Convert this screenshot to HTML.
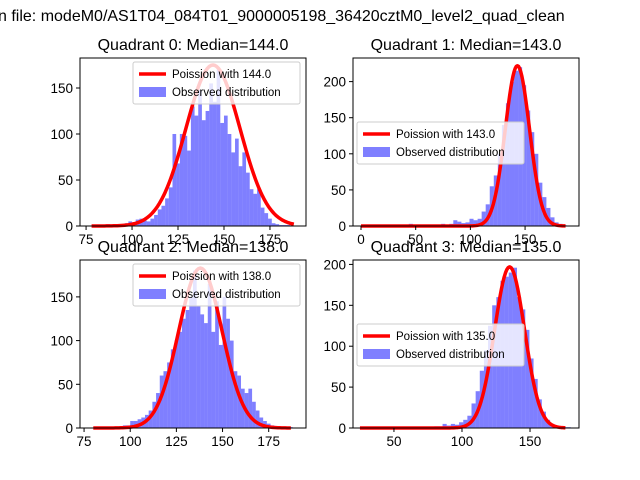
<!DOCTYPE html>
<html><head><meta charset="utf-8">
<style>
html,body{margin:0;padding:0;background:#fff;}
svg{display:block;font-family:"Liberation Sans","DejaVu Sans",sans-serif;}
</style></head>
<body>
<svg id="fig" width="640" height="480" viewBox="0 0 640 480">
<rect width="640" height="480" fill="#fff"/>
<text x="-2" y="21" font-size="16" fill="#000">n file: modeM0/AS1T04_084T01_9000005198_36420cztM0_level2_quad_clean</text>
</svg>
<script>
// ---- data ----
const medians = [144, 143, 138, 135];
const curvePeaks = [175, 222, 183, 197];
const curveVariances = [216, 122, 138, 122];
const binStarts = [78, 3, 80, 31];
const binWidths = [2, 3.7, 2, 3.04];
const curveRanges = [[78, 188], [0, 187], [80, 187], [25, 176]];
const q0Counts = [1,1,1,1,2,1,2,2,1,3,5,4,7,8,6,5,8,12,18,22,30,42,100,68,100,98,82,130,120,148,115,125,155,135,170,112,120,100,80,95,65,80,58,40,35,40,20,14,8,3,2,1,1,1,0];
const q1Counts = [1,1,1,1,1,1,1,1,1,1,1,3,2,2,2,2,1,1,2,3,2,3,8,6,4,5,10,8,10,20,30,55,70,100,140,170,200,215,220,195,160,130,100,60,40,25,12,5,3,1];
const q2Counts = [1,1,1,1,1,1,1,2,3,3,8,8,10,12,15,20,30,40,60,65,75,90,100,110,125,135,150,180,140,130,120,165,110,145,95,150,125,100,65,60,45,40,45,30,20,12,8,5,3,1,1,1,1,1];
const q3Counts = [1,0,0,1,0,1,0,1,1,1,1,1,1,1,1,1,2,2,5,3,5,4,7,10,15,30,45,70,95,125,150,160,180,185,190,196,160,145,120,85,60,35,20,10,5,3,2,1,1,0];
const allCounts = [q0Counts, q1Counts, q2Counts, q3Counts];
const xTickVals = [[75,100,125,150,175],[0,50,100,150],[75,100,125,150,175],[50,100,150]];
const yTickVals = [[0,50,100,150],[0,50,100,150,200],[0,50,100,150],[0,50,100,150,200]];
const xDomains = [[71.7,194.6],[-7.3,199.3],[72.8,195.2],[19.9,186]];
const yDomains = [[0,182.6],[0,232.7],[0,192.2],[0,205.4]];
const legendPos = ['ur','cl','ur','cl'];

const NS = 'http://www.w3.org/2000/svg';
const svg = document.getElementById('fig');
function mk(tag, attrs, parent){
  const e = document.createElementNS(NS, tag);
  for (const k in attrs) e.setAttribute(k, attrs[k]);
  (parent||svg).appendChild(e);
  return e;
}
const boxes = [[80,58,226,168],[353,58,226,168],[80,260,226,168],[353,260,226,168]];

for (let q=0;q<4;q++){
  const [bx,by,bw,bh] = boxes[q];
  const [x0,x1] = xDomains[q], [y0,y1] = yDomains[q];
  const X = v => bx + (v-x0)/(x1-x0)*bw;
  const Y = v => by + bh - (v-y0)/(y1-y0)*bh;
  const g = mk('g', {});
  
  
  const t = mk('text', {x: bx+bw/2, y: by-8, 'font-size': 16, 'text-anchor':'middle'}, g);
  
  
  t.textContent = 'Quadrant ' + q + ': Median=' + medians[q].toFixed(1);
  const counts = allCounts[q];
  for (let i=0;i<counts.length;i++){
    if (counts[i] <= 0) continue;
    const a = binStarts[q] + i*binWidths[q];
    const r = mk('rect', {x: X(a), y: Y(counts[i]), width: X(a+binWidths[q])-X(a), height: Y(0)-Y(counts[i]), fill:'#0000ff', 'fill-opacity':0.5}, g);
    
    
  }
  const lam = medians[q], vr = curveVariances[q];
  let d = '';
  for (let x=curveRanges[q][0]; x<=curveRanges[q][1]; x+=1){
    const yv = curvePeaks[q]*Math.exp(-(x-lam)*(x-lam)/(2*vr));
    d += (d?'L':'M') + X(x).toFixed(2) + ',' + Y(yv).toFixed(2);
  }
  const p = mk('path', {d, fill:'none', stroke:'#ff0000', 'stroke-width':3.5, 'stroke-linejoin':'round'}, g);
  
  
  const fr = mk('rect', {x:bx, y:by, width:bw, height:bh, fill:'none', stroke:'#000', 'stroke-width':1}, g);
  
  
  xTickVals[q].forEach(v=>{
    const x = X(v);
    const l = mk('line', {x1:x, x2:x, y1:by+bh, y2:by+bh+4, stroke:'#000'}, g);
    
    
    const tx = mk('text', {x, y: by+bh+18, 'font-size':13.5, 'text-anchor':'middle'}, g);
    
    
    tx.textContent = v;
  });
  yTickVals[q].forEach(v=>{
    const y = Y(v);
    const l = mk('line', {x1:bx-4, x2:bx, y1:y, y2:y, stroke:'#000'}, g);
    
    
    const tx = mk('text', {x: bx-7, y: y+5, 'font-size':13.5, 'text-anchor':'end'}, g);
    
    
    tx.textContent = v;
  });
  const lw = 167, lh = 42;
  const lx = legendPos[q]==='ur' ? bx+bw-6-lw : bx+4;
  const ly = legendPos[q]==='ur' ? by+4 : by+bh/2-20;
  const lg = mk('g', {}, g);
  
  
  mk('rect', {x:lx, y:ly, width:lw, height:lh, rx:2, fill:'#fff', 'fill-opacity':0.8, stroke:'#cccccc'}, lg);
  mk('line', {x1:lx+6, x2:lx+33, y1:ly+12, y2:ly+12, stroke:'#ff0000', 'stroke-width':3.5}, lg);
  const t1 = mk('text', {x:lx+39, y:ly+16, 'font-size':11.5}, lg);
  
  
  t1.textContent = 'Poission with ' + medians[q].toFixed(1);
  mk('rect', {x:lx+6, y:ly+25, width:27, height:10, fill:'#0000ff', 'fill-opacity':0.5}, lg);
  const t2 = mk('text', {x:lx+39, y:ly+34, 'font-size':11.5}, lg);
  
  
  t2.textContent = 'Observed distribution';
}
</script>
</body></html>
